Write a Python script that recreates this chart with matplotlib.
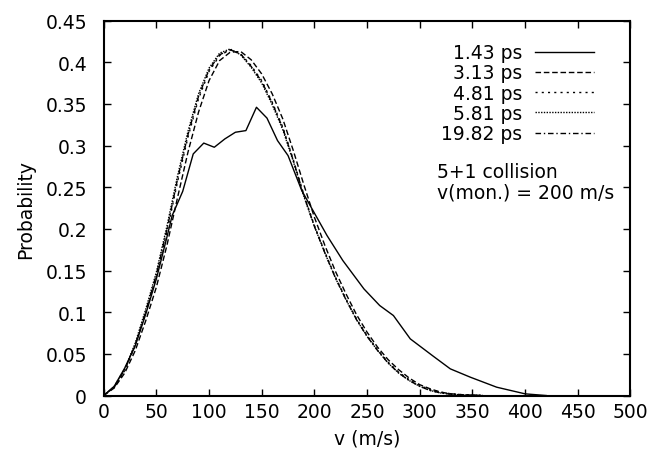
import matplotlib
matplotlib.use("Agg")
import matplotlib.pyplot as plt

plt.rcParams['font.family'] = ['DejaVu Sans']

# speed grid for the relaxed distributions (m/s)
v = [0, 10, 20, 30, 40, 50, 60, 70, 80, 90, 100, 110, 120, 130, 140, 150, 160, 170,
     180, 190, 200, 210, 220, 230, 240, 250, 260, 270, 280, 290, 300, 310, 320, 330,
     340, 350, 360]

p_313 = [0, 0.009, 0.027, 0.054, 0.090, 0.130, 0.180, 0.237, 0.292, 0.340, 0.378,
         0.402, 0.412, 0.413, 0.403, 0.386, 0.362, 0.332, 0.294, 0.253, 0.214, 0.180,
         0.149, 0.122, 0.097, 0.076, 0.058, 0.043, 0.031, 0.021, 0.013, 0.008, 0.004,
         0.002, 0.001, 0.0005, 0]
p_481 = [0, 0.010, 0.030, 0.060, 0.100, 0.143, 0.196, 0.256, 0.310, 0.356, 0.389,
         0.408, 0.415, 0.410, 0.396, 0.378, 0.352, 0.322, 0.283, 0.241, 0.204, 0.172,
         0.142, 0.116, 0.092, 0.072, 0.055, 0.040, 0.028, 0.019, 0.012, 0.007, 0.004,
         0.002, 0.001, 0.0005, 0]
p_581 = [0, 0.011, 0.032, 0.063, 0.104, 0.148, 0.203, 0.263, 0.317, 0.362, 0.393,
         0.411, 0.416, 0.409, 0.394, 0.375, 0.349, 0.319, 0.281, 0.239, 0.203, 0.171,
         0.141, 0.115, 0.091, 0.071, 0.054, 0.039, 0.027, 0.018, 0.011, 0.006, 0.003,
         0.0015, 0.0008, 0.0003, 0]
p_1982 = [0, 0.010, 0.031, 0.061, 0.101, 0.145, 0.199, 0.259, 0.313, 0.359, 0.391,
          0.409, 0.415, 0.410, 0.395, 0.377, 0.351, 0.321, 0.282, 0.240, 0.203, 0.171,
          0.141, 0.115, 0.091, 0.071, 0.054, 0.039, 0.027, 0.018, 0.011, 0.006, 0.003,
          0.0015, 0.0008, 0.0003, 0]

# early (1.43 ps) distribution, irregular
v_143 = [0, 10, 20, 30, 40, 50, 60, 65, 75, 85, 95, 105, 115, 125, 135, 145, 155,
         165, 175, 188, 196, 212, 227, 247, 262, 275, 291, 313, 329, 348, 373, 400, 420]
p_143 = [0, 0.011, 0.033, 0.060, 0.098, 0.140, 0.190, 0.216, 0.245, 0.290, 0.303,
         0.298, 0.308, 0.316, 0.318, 0.346, 0.333, 0.306, 0.288, 0.246, 0.228, 0.192,
         0.162, 0.128, 0.108, 0.096, 0.068, 0.047, 0.032, 0.022, 0.010, 0.002, 0]

xticks = [0, 50, 100, 150, 200, 250, 300, 350, 400, 450, 500]
yticks = [0, 0.05, 0.1, 0.15, 0.2, 0.25, 0.3, 0.35, 0.4, 0.45]
ytick_labels = ["0", "0.05", "0.1", "0.15", "0.2", "0.25", "0.3", "0.35", "0.4", "0.45"]

fs = 13.5

fig = plt.figure(figsize=(6.52, 4.6), dpi=100)
ax = fig.add_axes([0.159, 0.138, 0.808, 0.815])

lw = 1.0
ax.plot(v_143, p_143, color="black", lw=lw, ls="-", label="1.43 ps")
ax.plot(v, p_313, color="black", lw=lw, ls=(0, (4, 2)), label="3.13 ps")
ax.plot(v, p_481, color="black", lw=lw, ls=(0, (1.5, 3)), label="4.81 ps")
ax.plot(v, p_581, color="black", lw=lw, ls=(0, (1, 1)), label="5.81 ps")
ax.plot(v, p_1982, color="black", lw=lw, ls=(0, (4, 2, 1, 2)), label="19.82 ps")

ax.set_xlim(0, 500)
ax.set_ylim(0, 0.45)
ax.set_xticks(xticks)
ax.set_yticks(yticks)
ax.set_yticklabels(ytick_labels)
ax.tick_params(direction="in", top=True, right=True, length=5, width=1,
               labelsize=fs)
ax.tick_params(axis="x", pad=5)
ax.tick_params(axis="y", pad=12)
for s in ax.spines.values():
    s.set_linewidth(1.5)

ax.set_xlabel("v (m/s)", fontsize=fs, labelpad=5)
ax.set_ylabel("Probability", fontsize=fs, labelpad=7.5)

ax.legend(loc="upper right", bbox_to_anchor=(0.931, 0.94), frameon=False,
          markerfirst=False, fontsize=fs, handlelength=3.15, handletextpad=0.7,
          labelspacing=0.07, borderpad=0, borderaxespad=0)

ax.text(0.633, 0.569, "5+1 collision\nv(mon.) = 200 m/s", transform=ax.transAxes,
        fontsize=fs, ha="left", va="center", linespacing=1.1)

fig.savefig("out.png", dpi=100)
